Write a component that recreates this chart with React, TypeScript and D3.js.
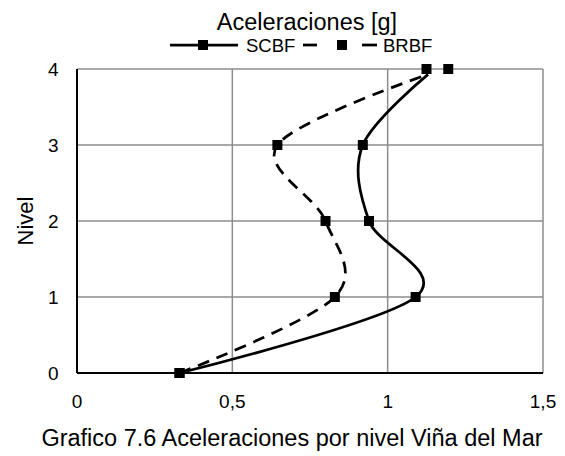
import { useEffect, useRef } from "react";
import * as d3 from "d3";

const levels = [0, 1, 2, 3, 4];
const scbf = [0.33, 1.09, 0.94, 0.92, 1.125];
const brbf = [0.33, 0.83, 0.8, 0.645, 1.195];
// the drawn curves stop just under level 4 in the original
const curveTopLevel = 3.93;
const curveTopValue = [1.13, 1.13];
const xTicks = [0, 0.5, 1, 1.5];
const yTicks = [0, 1, 2, 3, 4];

const font = "'Liberation Sans', Arial, sans-serif";

export default function App() {
  const ref = useRef<SVGSVGElement>(null);

  useEffect(() => {
    const svg = d3.select(ref.current);
    svg.selectAll("*").remove();

    const x = d3.scaleLinear().domain([0, 1.5]).range([77, 543]);
    const y = d3.scaleLinear().domain([0, 4]).range([373, 69]);

    // grid
    const g = svg.append("g");
    g.selectAll(".vx")
      .data(xTicks)
      .join("line")
      .attr("x1", (d) => x(d))
      .attr("x2", (d) => x(d))
      .attr("y1", y(0))
      .attr("y2", y(4))
      .attr("stroke", "#8c8c8c")
      .attr("stroke-width", 1.5);
    g.selectAll(".hy")
      .data(yTicks)
      .join("line")
      .attr("x1", x(0))
      .attr("x2", x(1.5))
      .attr("y1", (d) => y(d))
      .attr("y2", (d) => y(d))
      .attr("stroke", "#8c8c8c")
      .attr("stroke-width", 1.5);

    // axes
    g.append("line")
      .attr("x1", x(0))
      .attr("x2", x(0))
      .attr("y1", y(0))
      .attr("y2", y(4))
      .attr("stroke", "#000")
      .attr("stroke-width", 2);
    g.append("line")
      .attr("x1", x(0))
      .attr("x2", x(1.5))
      .attr("y1", y(0))
      .attr("y2", y(0))
      .attr("stroke", "#000")
      .attr("stroke-width", 2);

    // tick labels
    svg.append("g")
      .selectAll("text")
      .data(xTicks)
      .join("text")
      .attr("x", (d) => x(d))
      .attr("y", 408)
      .attr("text-anchor", "middle")
      .attr("font-family", font)
      .attr("font-size", 19)
      .text((d) => String(d).replace(".", ","));
    svg.append("g")
      .selectAll("text")
      .data(yTicks)
      .join("text")
      .attr("x", 58.5)
      .attr("y", (d) => y(d) + 7)
      .attr("text-anchor", "end")
      .attr("font-family", font)
      .attr("font-size", 19)
      .text((d) => String(d));

    svg.append("text")
      .attr("transform", `translate(33,${(y(0) + y(4)) / 2}) rotate(-90)`)
      .attr("text-anchor", "middle")
      .attr("font-family", font)
      .attr("font-size", 22)
      .text("Nivel");

    // series
    const series = [
      { name: "SCBF", values: scbf, dash: null as string | null },
      { name: "BRBF", values: brbf, dash: "12,8" },
    ];
    const line = d3
      .line<[number, number]>()
      .x((d) => x(d[0]))
      .y((d) => y(d[1]))
      .curve(d3.curveCardinal.tension(0));

    series.forEach((s, i) => {
      const pts: [number, number][] = s.values
        .slice(0, -1)
        .map((v, j) => [v, levels[j]] as [number, number]);
      pts.push([curveTopValue[i], curveTopLevel]);
      svg.append("path")
        .attr("d", line(pts))
        .attr("fill", "none")
        .attr("stroke", "#000")
        .attr("stroke-width", 2.75)
        .attr("stroke-dasharray", s.dash);
      svg.append("g")
        .selectAll("rect")
        .data(s.values)
        .join("rect")
        .attr("x", (d) => x(d) - 5)
        .attr("y", (_, j) => y(levels[j]) - 5)
        .attr("width", 10)
        .attr("height", 10)
        .attr("fill", "#000");
    });

    // title + legend
    svg.append("text")
      .attr("x", 307)
      .attr("y", 30)
      .attr("text-anchor", "middle")
      .attr("font-family", font)
      .attr("font-size", 23.5)
      .text("Aceleraciones [g]");

    const ly = 45;
    svg.append("line")
      .attr("x1", 170).attr("x2", 238).attr("y1", ly).attr("y2", ly)
      .attr("stroke", "#000").attr("stroke-width", 2.75);
    svg.append("rect").attr("x", 198).attr("y", ly - 5).attr("width", 10).attr("height", 10);
    svg.append("text").attr("x", 246).attr("y", ly + 6.5)
      .attr("font-family", font).attr("font-size", 18.5).text("SCBF");
    svg.append("line")
      .attr("x1", 303).attr("x2", 317).attr("y1", ly).attr("y2", ly)
      .attr("stroke", "#000").attr("stroke-width", 2.75);
    svg.append("line")
      .attr("x1", 362).attr("x2", 377).attr("y1", ly).attr("y2", ly)
      .attr("stroke", "#000").attr("stroke-width", 2.75);
    svg.append("rect").attr("x", 337).attr("y", ly - 5).attr("width", 10).attr("height", 10);
    svg.append("text").attr("x", 383).attr("y", ly + 6.5)
      .attr("font-family", font).attr("font-size", 18.5).text("BRBF");

    svg.append("text")
      .attr("x", 292)
      .attr("y", 446)
      .attr("text-anchor", "middle")
      .attr("font-family", font)
      .attr("font-size", 23.5)
      .text("Grafico 7.6 Aceleraciones por nivel Viña del Mar");
  }, []);

  return (
    <svg
      ref={ref}
      width={565}
      height={456}
      style={{ position: "absolute", left: 0, top: 0, background: "#fff" }}
    />
  );
}
